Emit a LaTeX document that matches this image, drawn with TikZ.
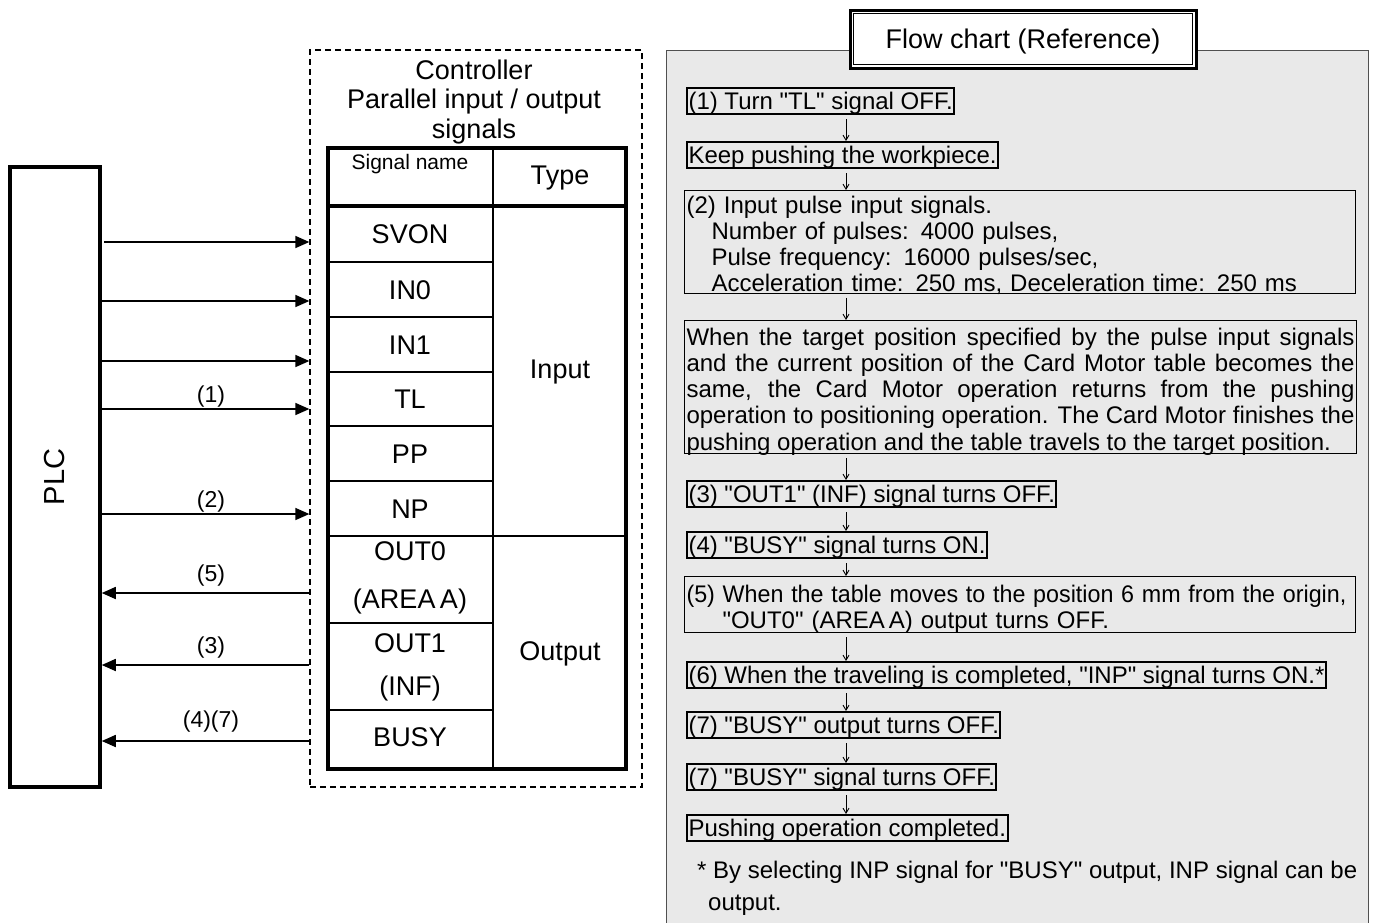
\documentclass[tikz,border=0pt]{standalone}
\usepackage{fontspec}
\setmainfont{Liberation Sans}[Ligatures=TeXOff]
\usetikzlibrary{arrows.meta}
\definecolor{panelfill}{RGB}{233,233,233}
\definecolor{panelline}{RGB}{80,80,80}
\tikzset{
  sig/.style={line width=1.6pt,-{Triangle[length=14pt,width=12pt]}},
  lbl/.style={font=\fontsize{23}{26}\selectfont, inner sep=0pt},
  cell/.style={font=\fontsize{27}{30}\selectfont, inner sep=0pt},
  flowtxt/.style={font=\fontsize{24}{26.3}\selectfont},
  thickbox/.style={flowtxt, draw, line width=2pt, anchor=north west, inner xsep=1.5pt, inner ysep=1pt, text height=20pt, text depth=4pt},
  thinbox/.style={flowtxt, draw, line width=1pt, anchor=north west, inner xsep=2pt, align=left},
  farrow/.style={line width=0.9pt, shorten <=4pt, -{Straight Barb[length=5pt,width=6pt]}},
}
\begin{document}
\begin{tikzpicture}[x=1pt,y=-1pt]
\useasboundingbox (0,0) rectangle (1375,922);
\fill[white] (0,0) rectangle (1375,922);

% ---------- PLC ----------
\node[draw, line width=3.5pt, minimum width=90pt, minimum height=620pt, inner sep=0pt,
      font=\fontsize{29}{32}\selectfont] (plc) at (55,477) {\rotatebox{90}{PLC}};

% ---------- Controller ----------
\node[draw, line width=1.3pt, dash pattern=on 6pt off 4pt, minimum width=332pt, minimum height=737pt, inner sep=0pt] (ctrl) at (476,418.5) {};
\node[align=center, font=\fontsize{27}{29.5}\selectfont, inner sep=0pt] (ctitle) at (474,102) {Controller\\Parallel input / output\\signals};

% table
\draw[line width=4pt] (328,148) rectangle (626,769);
\draw[line width=4pt] (328,206) -- (626,206);
\draw[line width=2pt] (493,148) -- (493,769);
\foreach \yy in {262,317,372,426,481,623,710} \draw[line width=2pt] (328,\yy) -- (493,\yy);
\draw[line width=2pt] (328,536) -- (626,536);

\node[font=\fontsize{21}{24}\selectfont, inner sep=0pt] (hsig) at (410,164) {Signal name};
\node[cell] (htype) at (560,178) {Type};
\node[cell] (svon) at (410,234) {SVON};
\node[cell] (in0) at (410,290) {IN0};
\node[cell] (in1) at (410,345) {IN1};
\node[cell] (tl) at (410,399) {TL};
\node[cell] (pp) at (410,454) {PP};
\node[cell] (np) at (410,509) {NP};
\node[cell, align=center, font=\fontsize{27}{48}\selectfont] (out0) at (410,578) {OUT0\\(AREA\,A)};
\node[cell, align=center, font=\fontsize{27}{43}\selectfont] (out1) at (410,667) {OUT1\\(INF)};
\node[cell] (busy) at (410,737) {BUSY};
\node[cell] (input) at (560,372) {Input};
\node[cell] (output) at (560,654) {Output};

% signal arrows
\draw[sig] (104,242) -- (ctrl.west |- 0,242);
\draw[sig] (plc.east |- 0,301) -- (ctrl.west |- 0,301);
\draw[sig] (plc.east |- 0,361) -- (ctrl.west |- 0,361);
\draw[sig] (plc.east |- 0,409) -- (ctrl.west |- 0,409);
\draw[sig] (plc.east |- 0,514) -- (ctrl.west |- 0,514);
\draw[sig] (ctrl.west |- 0,593) -- (plc.east |- 0,593);
\draw[sig] (ctrl.west |- 0,665) -- (plc.east |- 0,665);
\draw[sig] (ctrl.west |- 0,741) -- (plc.east |- 0,741);
\node[lbl] (l1) at (211,397) {(1)};
\node[lbl] (l2) at (211,502) {(2)};
\node[lbl] (l5) at (211,576) {(5)};
\node[lbl] (l3) at (211,648) {(3)};
\node[lbl] (l47) at (211,722) {(4)(7)};

% ---------- Flow chart panel ----------
\draw[panelline, fill=panelfill, line width=1pt] (666,50) rectangle (1368,940);
\node[draw, line width=3pt, fill=white, minimum width=346pt, minimum height=58pt, inner sep=0pt,
      text height=19.7pt, text depth=0pt,
      font=\fontsize{27}{30}\selectfont] (ftitle) at (1023,39) {Flow chart (Reference)};
\draw[line width=1pt] ([shift={(5pt,-5pt)}]ftitle.north west) rectangle ([shift={(-5pt,5pt)}]ftitle.south east);

\coordinate (ax) at (846,0);

\node[thickbox] (b1) at (686,87) {(1) Turn "TL" signal OFF.};
\node[thickbox] (b2) at (686,141) {Keep pushing the workpiece.};
\node[thinbox, text width=667pt, inner ysep=0.5pt, text height=22pt, text depth=79.9pt] (b3) at (684,190)
  {(2) Input pulse input signals.\\
   \hspace*{25pt}Number of pulses: 4000 pulses,\\
   \hspace*{25pt}Pulse frequency: 16000 pulses/sec,\\
   \hspace*{25pt}Acceleration time: 250 ms, Deceleration time: 250 ms};
\node[thinbox, align=justify, text width=668pt, inner ysep=1.5pt, text height=23pt, text depth=107.2pt] (b4) at (684,320)
  {\rightskip=6pt\hyphenpenalty=10000\emergencystretch=20pt When the target position specified by the pulse input signals\linebreak
   and the current position of the Card Motor table becomes the\linebreak
   same, the Card Motor operation returns from the pushing\linebreak
   operation to positioning operation. The Card Motor finishes the\linebreak
   pushing operation and the table travels to the target position.};
\node[thickbox] (b5) at (686,480) {(3) "OUT1" (INF) signal turns OFF.};
\node[thickbox] (b6) at (686,531) {(4) "BUSY" signal turns ON.};
\node[thinbox, text width=667pt, inner ysep=0.5pt, text height=25pt, text depth=30.3pt] (b7) at (684,576)
  {\scalebox{0.97}[1]{(5) When the table moves to the position 6 mm from the origin,}\\
   \hspace*{36pt}"OUT0" (AREA\,A) output turns OFF.};
\node[thickbox] (b8) at (686,661) {(6) When the traveling is completed, "INP" signal turns ON.*};
\node[thickbox] (b9) at (686,711) {(7) "BUSY" output turns OFF.};
\node[thickbox] (b10) at (686,763) {(7) "BUSY" signal turns OFF.};
\node[thickbox] (b11) at (686,814) {Pushing operation completed.};
\node[flowtxt, font=\fontsize{24}{32}\selectfont, anchor=north west, align=left, inner sep=0pt] (note) at (697,861)
  {* By selecting INP signal for "BUSY" output, INP signal can be\\\hspace*{11pt}output.};

\draw[farrow] (b1.south -| ax) -- (b2.north -| ax);
\draw[farrow] (b2.south -| ax) -- (b3.north -| ax);
\draw[farrow] (b3.south -| ax) -- (b4.north -| ax);
\draw[farrow] (b4.south -| ax) -- (b5.north -| ax);
\draw[farrow] (b5.south -| ax) -- (b6.north -| ax);
\draw[farrow] (b6.south -| ax) -- (b7.north -| ax);
\draw[farrow] (b7.south -| ax) -- (b8.north -| ax);
\draw[farrow] (b8.south -| ax) -- (b9.north -| ax);
\draw[farrow] (b9.south -| ax) -- (b10.north -| ax);
\draw[farrow] (b10.south -| ax) -- (b11.north -| ax);
\end{tikzpicture}
\end{document}
